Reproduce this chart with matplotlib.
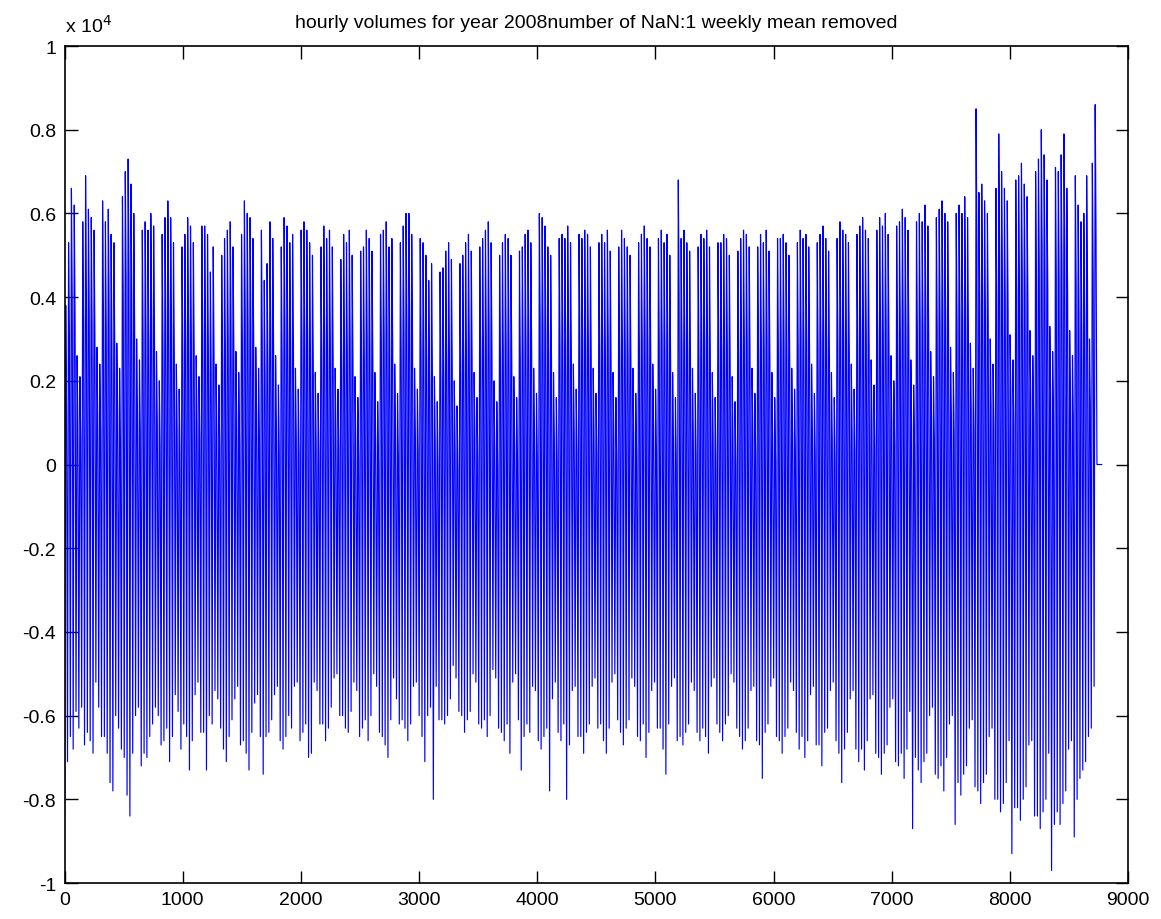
import numpy as np
import matplotlib
matplotlib.use("Agg")
import matplotlib.pyplot as plt

plt.rcParams['font.family'] = ['Liberation Sans', 'DejaVu Sans']

# Daily levels of the hourly volumes (weekly mean removed), one row per week
# starting on Tuesday 1 Jan 2008: [Tue, Wed, Thu, Fri, Sat, Sun, Mon]
daily_peaks = [
    3800, 5300, 6600, 6200, 2600, 2100, 5800,
    6900, 6100, 5900, 5600, 2800, 2400, 6300,
    5800, 6100, 5500, 5300, 2900, 2300, 6400,
    7000, 7300, 6700, 6000, 3000, 2500, 5600,
    5800, 5600, 6000, 5700, 2700, 2000, 5500,
    5900, 6300, 5900, 5300, 2400, 1800, 5200,
    5500, 5900, 5700, 5300, 2600, 2100, 5700,
    5700, 5500, 4600, 5200, 2400, 1900, 5000,
    5400, 5600, 5800, 5200, 2700, 2200, 5500,
    6300, 6000, 5900, 5400, 2800, 2300, 5600,
    4400, 4800, 5800, 5400, 2600, 1900, 5200,
    5900, 5700, 5300, 5500, 2300, 1800, 5600,
    5800, 5600, 5300, 5000, 2200, 1700, 5200,
    5700, 5400, 5600, 5200, 2300, 1800, 4900,
    5500, 5300, 5600, 5000, 2100, 1600, 5100,
    5200, 5600, 5400, 5100, 2200, 1500, 5500,
    5600, 5800, 5200, 5400, 2400, 1700, 5300,
    5700, 6000, 6000, 5500, 2300, 1800, 5400,
    5300, 5000, 4400, 4800, 2100, 1500, 4600,
    4700, 5100, 5300, 4900, 2000, 1400, 4800,
    5000, 5300, 5500, 5100, 2200, 1600, 5200,
    5400, 5600, 5800, 5300, 2000, 1500, 5000,
    5300, 5500, 5400, 5000, 2100, 1600, 5100,
    5200, 5500, 5600, 5300, 2300, 1700, 6000,
    5900, 5700, 5200, 5000, 2200, 1600, 5400,
    5500, 5400, 5700, 5300, 2400, 1800, 5500,
    5400, 5600, 5500, 5200, 2300, 1700, 5300,
    5500, 5300, 5600, 5100, 2200, 1600, 5200,
    5600, 5400, 5200, 5000, 2300, 1700, 5300,
    5500, 5700, 5400, 5200, 2400, 1800, 5400,
    5600, 5300, 5500, 5000, 2200, 1600, 6800,
    5400, 5600, 5300, 5100, 2300, 1700, 5200,
    5500, 5400, 5600, 5200, 2200, 1600, 5300,
    5300, 5500, 5400, 5000, 2100, 1500, 5100,
    5400, 5600, 5500, 5200, 2300, 1700, 5200,
    5500, 5300, 5600, 5100, 2200, 1600, 5400,
    5400, 5500, 5300, 5000, 2300, 1800, 5300,
    5600, 5400, 5500, 5200, 2400, 1700, 5300,
    5500, 5700, 5400, 5100, 2200, 1600, 5400,
    5800, 5600, 5500, 5300, 2400, 1800, 5500,
    5700, 5900, 5600, 5400, 2500, 1900, 5600,
    5900, 5700, 6000, 5500, 2600, 2000, 5700,
    5800, 6100, 5900, 5600, 2500, 1900, 5800,
    6000, 5800, 6200, 5700, 2700, 2100, 5900,
    6100, 6300, 6000, 5800, 2800, 2200, 6000,
    6200, 6000, 6400, 5900, 2900, 2300, 8500,
    6500, 6700, 6300, 6000, 3000, 2400, 6600,
    7900, 7000, 6600, 6300, 3100, 2500, 6800,
    6900, 7200, 6700, 6400, 3200, 2600, 7000,
    7300, 8000, 7400, 6800, 3300, 2700, 7100,
    7000, 7400, 7900, 6600, 3200, 2600, 6900,
    6200, 5800, 6000, 6900, 3000, 7200, 8600,
    0, 0,
]

# Level around late afternoon, after the main peak of the day
daily_afternoon = [
    1200, 3100, 3900, 3500, 900, 600, 3300,
    4100, 3600, 3400, 3000, 1100, 700, 3700,
    3200, 3800, 2900, 2700, 1300, 500, 3900,
    4400, 4600, 4000, 3300, 1200, 800, 3000,
    3300, 2900, 3500, 3100, 1000, 400, 2800,
    3400, 3700, 3200, 2600, 800, 300, 2700,
    2900, 3300, 3100, 2700, 1000, 600, 3100,
    3100, 2800, 2200, 2600, 700, 400, 2500,
    2800, 3000, 3300, 2600, 1100, 500, 2900,
    3600, 3400, 3200, 2800, 1200, 700, 3000,
    2100, 2400, 3200, 2800, 900, 300, 2600,
    3300, 3100, 2700, 2900, 700, 200, 3000,
    3100, 2900, 2600, 2400, 600, 200, 2600,
    3000, 2700, 3000, 2500, 700, 300, 2300,
    2800, 2600, 3000, 2400, 500, 100, 2500,
    2500, 3000, 2700, 2500, 600, 0, 2900,
    3000, 3200, 2500, 2800, 800, 200, 2700,
    3100, 3400, 3500, 2900, 700, 300, 2800,
    2700, 2400, 1900, 2200, 500, 0, 2000,
    2100, 2500, 2700, 2300, 400, -100, 2200,
    2400, 2700, 2900, 2500, 600, 100, 2600,
    2800, 3000, 3200, 2700, 400, 0, 2400,
    2700, 2900, 2800, 2400, 500, 100, 2500,
    2600, 2900, 3000, 2700, 700, 200, 3400,
    3300, 3100, 2600, 2400, 600, 100, 2800,
    2900, 2800, 3100, 2700, 800, 300, 2900,
    2800, 3000, 2900, 2600, 700, 200, 2700,
    2900, 2700, 3000, 2500, 600, 100, 2600,
    3000, 2800, 2600, 2400, 700, 200, 2700,
    2900, 3100, 2800, 2600, 800, 300, 2800,
    3000, 2700, 2900, 2400, 600, 100, 3900,
    2800, 3000, 2700, 2500, 700, 200, 2600,
    2900, 2800, 3000, 2600, 600, 100, 2700,
    2700, 2900, 2800, 2400, 500, 0, 2500,
    2800, 3000, 2900, 2600, 700, 200, 2600,
    2900, 2700, 3000, 2500, 600, 100, 2800,
    2800, 2900, 2700, 2400, 700, 300, 2700,
    3000, 2800, 2900, 2600, 800, 200, 2700,
    2900, 3100, 2800, 2500, 600, 100, 2800,
    3200, 3000, 2900, 2700, 800, 300, 2900,
    3100, 3300, 3000, 2800, 900, 400, 3000,
    3300, 3100, 3400, 2900, 1000, 500, 3100,
    3200, 3500, 3300, 3000, 900, 400, 3200,
    3400, 3200, 3600, 3100, 1100, 600, 3300,
    3500, 3700, 3400, 3200, 1200, 700, 3400,
    3600, 3400, 3800, 3300, 1300, 800, 5200,
    3900, 4100, 3700, 3400, 1400, 900, 4000,
    5000, 4400, 4000, 3700, 1500, 1000, 4200,
    4300, 4600, 4100, 3800, 1600, 1100, 4400,
    4700, 5200, 4800, 4200, 1700, 1200, 4500,
    4400, 4800, 5100, 4000, 1600, 1100, 4300,
    3600, 3200, 3400, 4300, 1400, 4500, 5600,
    0, 0,
]

daily_troughs = [
    -8400, -7100, -6500, -6800, -5900, -6300, -5800,
    -6700, -6400, -6600, -6900, -5200, -5800, -6500,
    -6500, -6900, -7600, -7800, -6000, -6300, -6800,
    -7000, -7900, -8400, -6900, -6000, -5800, -7200,
    -6900, -7000, -6500, -6200, -5800, -6000, -6700,
    -6600, -6300, -7100, -6500, -5500, -5900, -6800,
    -6200, -6500, -7300, -6600, -5500, -5200, -6400,
    -6400, -7300, -6000, -6200, -5400, -5600, -6300,
    -6800, -7100, -6500, -6100, -5600, -5300, -6700,
    -6600, -6900, -7300, -6400, -5700, -5500, -6500,
    -7400, -6500, -6400, -6100, -5500, -5300, -6600,
    -6800, -6500, -6000, -6300, -5300, -5200, -6600,
    -6400, -6200, -7000, -6900, -5200, -5400, -6200,
    -6200, -6600, -6300, -5800, -5100, -5000, -6000,
    -6000, -6300, -6400, -5900, -5200, -5400, -6500,
    -6300, -6100, -6600, -6000, -5000, -5300, -6400,
    -6500, -6700, -7000, -6100, -5100, -5600, -6200,
    -6100, -6300, -6600, -6200, -5300, -5200, -6000,
    -6500, -7100, -6000, -5800, -8000, -5300, -6100,
    -6100, -6200, -6000, -5600, -4800, -5100, -5900,
    -6000, -6400, -6100, -5900, -5000, -5200, -6200,
    -6300, -6100, -6500, -6000, -4900, -5100, -6300,
    -6400, -6600, -6200, -6900, -5200, -5000, -6100,
    -7300, -6500, -6200, -6400, -5300, -5400, -6600,
    -6800, -6500, -6300, -7800, -5600, -5200, -6400,
    -6600, -6200, -8000, -6700, -5400, -5300, -6500,
    -6500, -6900, -6400, -6200, -5300, -5100, -6300,
    -6200, -6600, -6900, -6300, -5200, -5000, -6100,
    -6400, -6700, -6300, -6100, -5100, -5300, -6500,
    -6600, -6200, -7000, -6400, -5400, -5200, -6300,
    -6300, -6800, -7400, -6200, -5300, -5100, -6600,
    -6500, -6700, -6400, -6200, -5200, -5400, -6400,
    -6600, -6300, -6500, -6900, -5300, -5100, -6200,
    -6400, -6600, -6200, -6000, -5000, -5200, -6300,
    -6500, -6800, -6600, -6300, -5400, -5300, -6600,
    -6700, -7500, -6400, -6200, -5300, -5100, -6500,
    -6600, -6900, -6500, -6300, -5200, -5400, -6400,
    -6800, -6500, -7000, -6600, -5500, -5300, -6700,
    -6700, -7200, -6400, -6300, -5400, -5200, -6600,
    -6900, -7600, -6800, -6400, -5600, -5400, -6800,
    -7100, -6800, -7300, -6600, -5600, -5500, -6900,
    -7000, -7400, -6900, -6700, -5800, -5600, -7100,
    -7200, -6900, -7500, -6800, -5900, -8700, -7000,
    -7300, -7600, -7100, -6900, -6000, -5800, -7400,
    -7500, -7200, -7800, -7000, -6200, -6000, -8600,
    -7600, -7900, -7400, -7200, -6300, -6100, -7700,
    -7800, -8100, -7600, -7400, -6500, -6300, -8000,
    -8000, -8300, -8100, -7600, -6600, -9300, -8200,
    -8200, -8500, -8000, -7700, -6700, -6600, -8400,
    -8400, -8700, -8300, -8000, -6900, -9700, -8600,
    -8300, -8600, -8100, -7800, -6800, -6600, -8900,
    -8000, -7500, -7300, -7100, -6500, -6300, -5300,
    0, 0,
]

title_text = "hourly volumes for year 2008number of NaN:1 weekly mean removed"
x_ticks = [0, 1000, 2000, 3000, 4000, 5000, 6000, 7000, 8000, 9000]
y_ticks = [-1, -0.8, -0.6, -0.4, -0.2, 0, 0.2, 0.4, 0.6, 0.8, 1]

# Each day: night trough, daytime peak, late-afternoon level
peaks = np.asarray(daily_peaks, dtype=float)
afternoon = np.asarray(daily_afternoon, dtype=float)
troughs = np.asarray(daily_troughs, dtype=float)
days = np.arange(len(peaks))
hours = np.column_stack([days * 24 + 1, days * 24 + 10, days * 24 + 17]).ravel()
values = np.column_stack([troughs, peaks, afternoon]).ravel() / 1e4

fig = plt.figure(figsize=(11.61, 9.20), dpi=100)
ax = fig.add_axes([0.0556, 0.0391, 0.9160, 0.9098])
ax.plot(hours, values, color=(0, 0, 1), linewidth=0.85)

ax.set_xlim(0, 9000)
ax.set_ylim(-1, 1)
ax.set_xticks(x_ticks)
ax.set_xticklabels([str(t) for t in x_ticks])
ax.set_yticks(y_ticks)
ax.set_yticklabels(["%g" % t for t in y_ticks])
ax.tick_params(direction='in', length=9, width=1, labelsize=14,
               top=True, right=True, pad=6)
for sp in ax.spines.values():
    sp.set_linewidth(1.2)

ax.set_title(title_text, fontsize=14, pad=14)
ax.text(0.0, 1.012, r"x 10$^{4}$", transform=ax.transAxes, fontsize=14,
        ha='left', va='bottom')

fig.savefig("out.png", dpi=100)
